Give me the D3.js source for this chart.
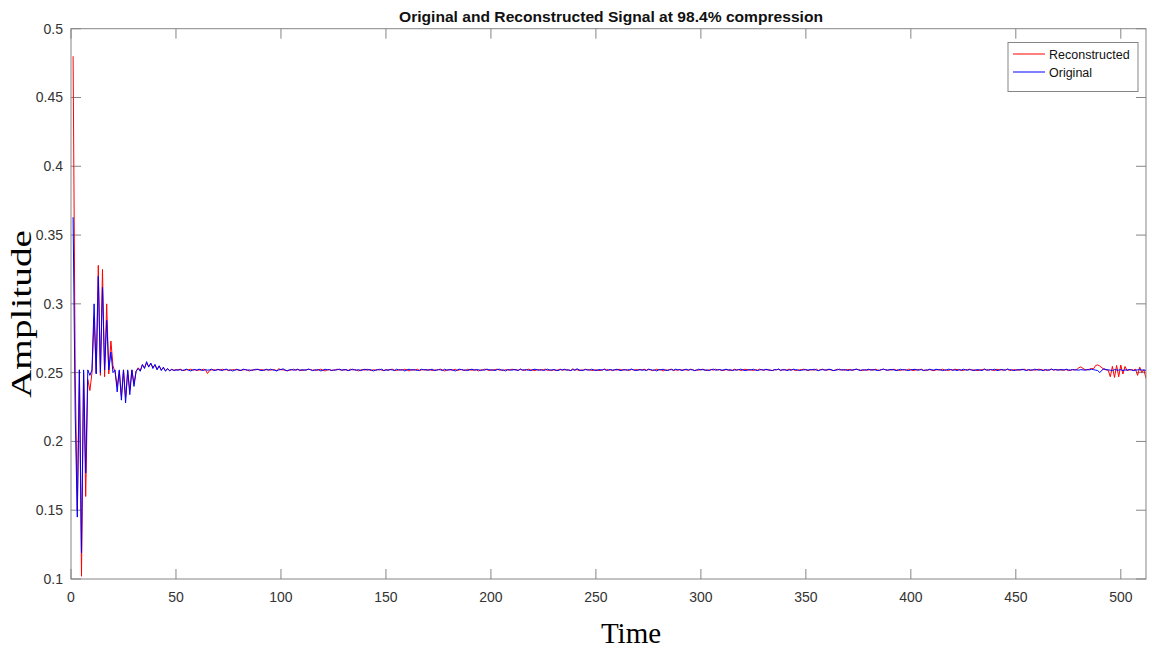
<!DOCTYPE html>
<html>
<head>
<meta charset="utf-8">
<script src="https://cdn.jsdelivr.net/npm/d3@7"></script>
<style>
  body { margin: 0; background: #fff; }
  svg { display: block; }
</style>
</head>
<body>
<div id="chart"></div>
<script>
const width = 1152;
const height = 650;

// Original signal: start transient (t = 1..50)
const originalStart = [0.363, 0.22, 0.145, 0.252, 0.119, 0.252, 0.177, 0.252, 0.248, 0.252,
  0.300, 0.249, 0.320, 0.250, 0.312, 0.252, 0.288, 0.252, 0.265, 0.250,
  0.252, 0.236, 0.252, 0.230, 0.252, 0.228, 0.252, 0.234, 0.252, 0.240,
  0.251, 0.253, 0.251, 0.256, 0.253, 0.258, 0.254, 0.257, 0.253, 0.256,
  0.252, 0.255, 0.2515, 0.254, 0.251, 0.253, 0.2512, 0.2525, 0.2515, 0.252];

// Original signal: flat part (t = 51..478)
const originalFlat = [
  .2518, .2522, .2515, .252, .2525, .2518, .2512, .252, .2522, .2518, .2525, .252, .2515, .2522, .2518, .252, .2525, .2515, .2518, .2522,
  .252, .2515, .2522, .2525, .2518, .252, .2512, .2518, .2522, .252, .2515, .2525, .2522, .2518, .252, .2515, .2522, .252, .2525, .2518,
  .2515, .252, .2522, .2518, .2525, .252, .2518, .2512, .252, .2522, .2528, .2518, .2515, .252, .2522, .2518, .252, .2525, .2515, .2522,
  .2518, .252, .2525, .2522, .2515, .2518, .2522, .252, .2512, .2518, .2525, .252, .2522, .2515, .252, .2518, .2522, .2525, .2518, .252,
  .2522, .2515, .2518, .2525, .252, .2518, .2522, .2515, .252, .2525, .2518, .2522, .252, .2512, .2518, .2522, .252, .2525, .2515, .252,
  .2518, .2522, .252, .2515, .2525, .252, .2518, .2522, .2512, .252, .2525, .2518, .2522, .252, .2515, .2518, .2525, .252, .2522, .2518,
  .252, .2525, .2515, .2518, .2522, .252, .2515, .2525, .2518, .252, .2522, .2518, .2512, .252, .2525, .2522, .2518, .252, .2515, .2522,
  .2525, .2518, .252, .2522, .2515, .252, .2518, .2525, .2522, .2518, .252, .2515, .2522, .2525, .2518, .252, .2512, .2522, .252, .2518,
  .2522, .252, .2515, .2525, .2518, .2522, .252, .2518, .2515, .2522, .2525, .252, .2518, .2522, .2515, .252, .2525, .2518, .252, .2522,
  .2518, .2515, .2522, .252, .2525, .2518, .252, .2515, .2522, .2518, .2528, .252, .2515, .2518, .2522, .252, .2518, .2525, .252, .2515,
  .252, .2522, .2518, .2525, .2515, .252, .2522, .2518, .252, .2525, .2518, .2515, .2522, .252, .2518, .2522, .2525, .252, .2515, .2518,
  .2522, .2518, .252, .2515, .2525, .2522, .2518, .252, .2512, .2522, .252, .2525, .2518, .2515, .252, .2522, .2518, .2525, .252, .2522,
  .2515, .252, .2525, .2518, .2522, .252, .2515, .2518, .2525, .252, .2522, .2518, .252, .2515, .2522, .2525, .2518, .252, .2522, .2518,
  .252, .2525, .2518, .2522, .2515, .252, .2518, .2522, .2525, .252, .2515, .2518, .2522, .252, .2525, .2518, .2515, .252, .2522, .2518,
  .2525, .252, .2518, .2515, .2522, .252, .2525, .2518, .252, .2522, .2515, .252, .2518, .2525, .2522, .252, .2515, .2518, .252, .2522,
  .2518, .2522, .252, .2525, .2518, .2515, .252, .2522, .2518, .252, .2525, .2522, .2515, .2518, .252, .2525, .2518, .2522, .252, .2515,
  .252, .2518, .2522, .2525, .252, .2515, .2522, .2518, .252, .2525, .2518, .2522, .252, .2515, .2518, .2522, .2525, .252, .2518, .2522,
  .2522, .252, .2515, .2518, .2525, .252, .2522, .2518, .2515, .252, .2522, .2525, .2518, .252, .2522, .2515, .252, .2518, .2525, .252,
  .2518, .2525, .252, .2522, .2515, .2518, .252, .2525, .2522, .2518, .252, .2515, .2522, .2518, .2525, .252, .2518, .2522, .252, .2515,
  .252, .2522, .2518, .2515, .2525, .252, .2518, .2522, .252, .2525, .2515, .2518, .2522, .252, .2518, .2525, .2522, .252, .2515, .2518,
  .2522, .2518, .2525, .252, .2515, .2522, .252, .2518, .2525, .2522, .2518, .252, .2515, .2522, .252, .2518, .2525, .252, .2522, .2518,
  .252, .2522, .2518, .2525, .252, .2518, .2522, .252];

// Original signal: tail (t = 479..512)
const originalEnd = [.252, .2518, .2522, .252, .2518, .2522, .252, .2525, .2522, .2518,
  .2515, .2500, .2518, .2528, .2522, .252, .2518, .2515, .2522, .252,
  .2518, .2522, .2515, .252, .2518, .2522, .252, .2515, .2518, .252,
  .2522, .2518, .252, .2515];

// Reconstructed signal: start transient (t = 1..50)
const reconStart = [0.480, 0.250, 0.150, 0.252, 0.102, 0.250, 0.160, 0.245, 0.237, 0.250,
  0.290, 0.2497, 0.328, 0.248, 0.325, 0.247, 0.300, 0.249, 0.273, 0.255,
  0.250, 0.240, 0.251, 0.233, 0.252, 0.232, 0.251, 0.237, 0.252, 0.242,
  0.251, 0.2535, 0.2515, 0.2555, 0.2535, 0.257, 0.2545, 0.2565, 0.254, 0.2555,
  0.2525, 0.2548, 0.252, 0.2535, 0.2515, 0.2528, 0.2515, 0.2522, 0.2518, 0.2521];

// Reconstructed signal: flat part (t = 51..478)
const reconFlat = [
  .252, .2525, .2518, .2515, .2522, .252, .2525, .2518, .2522, .2515, .252, .2518, .2525, .2522, .2494, .2515, .252, .2522, .2518, .2525,
  .2518, .2525, .252, .2522, .2515, .2518, .2522, .252, .2525, .2515, .2518, .252, .2522, .2518, .2512, .252, .2518, .2525, .2522, .252,
  .2522, .2515, .2525, .252, .2518, .2522, .252, .2515, .2528, .2522, .252, .2518, .2512, .2518, .252, .2525, .2518, .2522, .252, .2515,
  .252, .2518, .2525, .2522, .2518, .252, .2515, .2522, .2525, .2518, .2512, .252, .2522, .2518, .2515, .2522, .2525, .252, .2518, .2522,
  .252, .2515, .2525, .252, .2522, .2518, .2512, .252, .2522, .2518, .2525, .252, .2515, .2522, .2518, .252, .2525, .2518, .2515, .2522,
  .2518, .2522, .2525, .2518, .2515, .252, .2522, .2518, .2525, .252, .2512, .2522, .2518, .252, .2525, .2515, .252, .2522, .2518, .252,
  .2522, .2515, .252, .2518, .2522, .2525, .252, .2512, .2518, .2522, .252, .2518, .2525, .2515, .252, .2522, .2518, .2515, .2525, .252,
  .2518, .252, .2522, .2512, .252, .2518, .2525, .2522, .2515, .252, .2518, .2522, .2525, .2518, .252, .2515, .2522, .252, .2518, .2525,
  .2522, .252, .2518, .2525, .252, .2515, .2522, .2525, .252, .2518, .2515, .2522, .252, .2518, .2522, .2525, .2515, .252, .2515, .2522,
  .2515, .252, .2525, .2518, .252, .2522, .2518, .2515, .2528, .2518, .2522, .2515, .252, .2518, .2525, .252, .2522, .2515, .2518, .252,
  .2518, .2515, .252, .2525, .2522, .2518, .252, .2515, .2522, .2518, .2525, .252, .2518, .2522, .252, .2515, .2525, .2518, .2522, .252,
  .2522, .252, .2525, .2518, .2522, .252, .2515, .2518, .2525, .252, .2522, .2512, .252, .2518, .2522, .2525, .2515, .252, .2518, .2522,
  .2518, .2522, .252, .2518, .2525, .2522, .2515, .252, .2518, .2522, .2525, .2518, .2515, .252, .2522, .2518, .2525, .252, .2522, .2515,
  .2518, .2522, .252, .2515, .2518, .2525, .252, .2522, .2515, .252, .2525, .2522, .2518, .252, .2515, .2522, .2518, .2525, .252, .2518,
  .2522, .252, .2518, .2515, .252, .2522, .2525, .2515, .2522, .252, .2518, .2525, .252, .2522, .2515, .2518, .252, .2522, .2525, .252,
  .2515, .252, .2522, .2518, .2525, .2515, .2522, .2525, .252, .2518, .2522, .252, .2515, .2518, .2525, .252, .2522, .2518, .252, .2522,
  .2522, .2518, .252, .2525, .2522, .2518, .2515, .2522, .2518, .252, .2522, .2518, .2525, .252, .2515, .2522, .2525, .252, .2518, .252,
  .252, .2525, .2518, .252, .2515, .2522, .252, .2518, .2525, .2522, .2515, .2518, .2522, .252, .2525, .2518, .2515, .252, .2522, .2518,
  .2515, .252, .2522, .2518, .2525, .252, .2518, .2515, .2522, .2518, .2525, .2522, .252, .2518, .2515, .2522, .252, .2525, .2518, .252,
  .2518, .2515, .252, .2522, .2525, .2518, .252, .2522, .2518, .2515, .2525, .252, .2522, .2518, .252, .2525, .2515, .2518, .2522, .252,
  .2518, .2522, .252, .2525, .2518, .252, .2515, .2522, .2518, .252, .2525, .2522, .2518, .252, .2515, .2522, .2525, .2518, .2522, .252,
  .2522, .2518, .252, .2522, .2515, .2518, .2522, .252];

// Reconstructed signal: tail (t = 479..512)
const reconEnd = [.2522, .2535, .2542, .2530, .2522, .2520, .2525, .2530, .2528, .2552,
  .2556, .2548, .2535, .2525, .2520, .2518, .2470, .2545, .2465, .2552,
  .2470, .2555, .2490, .2545, .2515, .2520, .2522, .2518, .2525, .2480,
  .2540, .2500, .2520, .2458];

const original = originalStart.concat(originalFlat, originalEnd);
const reconstructed = reconStart.concat(reconFlat, reconEnd);

const xTicks = d3.range(0, 501, 50);
const yTicks = [0.1, 0.15, 0.2, 0.25, 0.3, 0.35, 0.4, 0.45, 0.5];

const plotLeft = 71, plotRight = 1146, plotTop = 28.7, plotBottom = 579;
const axisColor = "#858585";
const textColor = "#333";
const tickLen = 10;

const svg = d3.select("#chart").append("svg")
    .attr("width", width)
    .attr("height", height)
    .style("font-family", "Liberation Sans, Arial, sans-serif");

const x = d3.scaleLinear().domain([0, 512]).range([plotLeft, plotRight]);
const y = d3.scaleLinear().domain([0.1, 0.5]).range([plotBottom, plotTop]);

// ticks on all four sides, pointing inward
const tickG = svg.append("g").attr("stroke", axisColor).attr("stroke-width", 1);
xTicks.forEach(t => {
    tickG.append("line").attr("x1", x(t)).attr("x2", x(t)).attr("y1", plotBottom).attr("y2", plotBottom - tickLen);
    tickG.append("line").attr("x1", x(t)).attr("x2", x(t)).attr("y1", plotTop).attr("y2", plotTop + tickLen);
});
yTicks.forEach(t => {
    tickG.append("line").attr("x1", plotLeft).attr("x2", plotLeft + tickLen).attr("y1", y(t)).attr("y2", y(t));
    tickG.append("line").attr("x1", plotRight).attr("x2", plotRight - tickLen).attr("y1", y(t)).attr("y2", y(t));
});

svg.append("g").selectAll("text")
    .data(xTicks).join("text")
    .attr("x", d => x(d))
    .attr("y", plotBottom + 23)
    .attr("text-anchor", "middle")
    .attr("font-size", 14)
    .attr("fill", textColor)
    .text(d => d);

svg.append("g").selectAll("text")
    .data(yTicks).join("text")
    .attr("x", plotLeft - 8)
    .attr("y", d => y(d) + 5)
    .attr("text-anchor", "end")
    .attr("font-size", 14)
    .attr("fill", textColor)
    .text(d => d3.format("~g")(d));

const line = d3.line()
    .x((d, i) => x(i + 1))
    .y(d => y(d));

svg.append("defs").append("clipPath").attr("id", "clip")
    .append("rect").attr("x", plotLeft).attr("y", plotTop)
    .attr("width", plotRight - plotLeft).attr("height", plotBottom - plotTop);

const plot = svg.append("g").attr("clip-path", "url(#clip)");
plot.append("path").datum(reconstructed)
    .attr("fill", "none").attr("stroke", "#ff0000").attr("stroke-width", 1)
    .attr("d", line);
plot.append("path").datum(original)
    .attr("fill", "none").attr("stroke", "#0000ff").attr("stroke-width", 1)
    .attr("d", line);

// axes box
svg.append("rect")
    .attr("x", plotLeft).attr("y", plotTop)
    .attr("width", plotRight - plotLeft).attr("height", plotBottom - plotTop)
    .attr("fill", "none").attr("stroke", axisColor).attr("stroke-width", 1);

// legend
const lg = svg.append("g");
lg.append("rect").attr("x", 1008).attr("y", 42.5).attr("width", 130).attr("height", 49)
    .attr("fill", "#fff").attr("stroke", axisColor);
[["Reconstructed", "#ff0000", 54], ["Original", "#0000ff", 72]].forEach(([name, c, ly]) => {
    lg.append("line").attr("x1", 1013).attr("x2", 1045).attr("y1", ly).attr("y2", ly)
        .attr("stroke", c).attr("stroke-width", 1);
    lg.append("text").attr("x", 1049).attr("y", ly + 4.5)
        .attr("font-size", 12.5).attr("fill", "#111").text(name);
});

svg.append("text")
    .attr("x", 611).attr("y", 22)
    .attr("text-anchor", "middle")
    .attr("font-size", 15).attr("font-weight", "bold").attr("fill", "#111")
    .attr("textLength", 424).attr("lengthAdjust", "spacingAndGlyphs")
    .text("Original and Reconstructed Signal at 98.4% compression");

svg.append("text")
    .attr("x", 631).attr("y", 643)
    .attr("text-anchor", "middle")
    .attr("font-family", "Liberation Serif, Times New Roman, serif")
    .attr("font-size", 29).attr("fill", "#000")
    .text("Time");

svg.append("text")
    .attr("transform", "translate(31,314) rotate(-90)")
    .attr("text-anchor", "middle")
    .attr("font-family", "Liberation Serif, Times New Roman, serif")
    .attr("font-size", 29).attr("fill", "#000")
    .attr("textLength", 168).attr("lengthAdjust", "spacingAndGlyphs")
    .text("Amplitude");
</script>
</body>
</html>
